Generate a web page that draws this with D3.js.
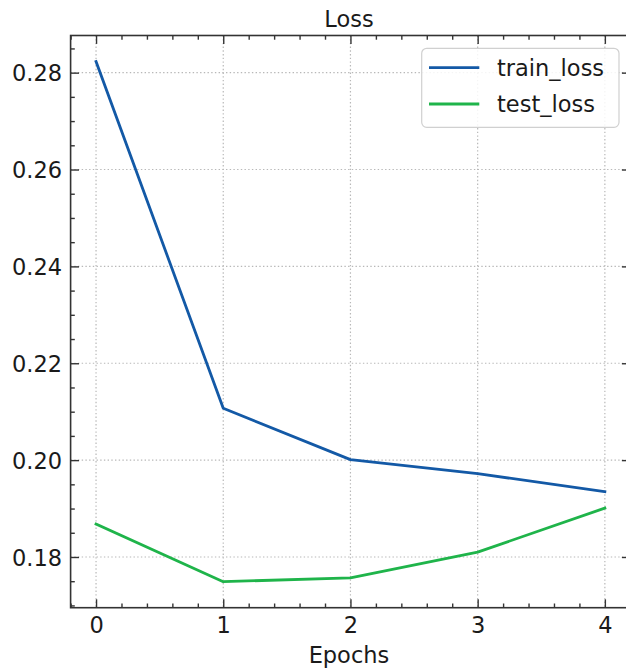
<!DOCTYPE html>
<html>
<head>
<meta charset="utf-8">
<script src="https://cdn.jsdelivr.net/npm/d3@7"></script>
<style>
  html, body { margin: 0; padding: 0; background: #ffffff; }
  svg { display: block; font-family: "DejaVu Sans", sans-serif; }
</style>
</head>
<body>
<script>
// Per-epoch loss values
const epochs = [0, 1, 2, 3, 4];
const trainLoss = [0.2823, 0.2107, 0.2001, 0.1972, 0.1935];
const testLoss = [0.1868, 0.1749, 0.1757, 0.1810, 0.1901];
const seriesNames = ["train_loss", "test_loss"];
const xTickValues = [0, 1, 2, 3, 4];
const yTickValues = [0.18, 0.20, 0.22, 0.24, 0.26, 0.28];

const W = 626, H = 671;
const plot = { left: 70.6, right: 630.3, top: 35.5, bottom: 607.7 };
const colors = ["#1359a6", "#1fb44a"];
const fontSize = 22.5;

const svg = d3.select("body").append("svg")
  .attr("width", W).attr("height", H);
svg.append("rect").attr("width", W).attr("height", H).attr("fill", "#ffffff");

// Axis limits with a 5% margin around the data, as pyplot does
const xPad = (d3.max(epochs) - d3.min(epochs)) * 0.05;
const allY = trainLoss.concat(testLoss);
const yPad = (d3.max(allY) - d3.min(allY)) * 0.05;

const x = d3.scaleLinear()
  .domain([d3.min(epochs) - xPad, d3.max(epochs) + xPad])
  .range([plot.left, plot.right]);
const y = d3.scaleLinear()
  .domain([d3.min(allY) - yPad, d3.max(allY) + yPad])
  .range([plot.bottom, plot.top]);

const xMinor = d3.range(0, 21).map(i => -0.2 + i * 0.2)
  .filter(v => v >= x.domain()[0] - 1e-9 && v <= x.domain()[1] + 1e-9)
  .filter(v => Math.abs(v - Math.round(v)) > 1e-6);
const yMinor = d3.range(0, 30).map(i => 0.165 + i * 0.005)
  .filter(v => v >= y.domain()[0] && v <= y.domain()[1])
  .filter(v => Math.abs(v * 50 - Math.round(v * 50)) > 1e-6);

// Dotted grid at major ticks
const grid = svg.append("g")
  .attr("stroke", "#b8b8b8").attr("stroke-width", 1.2)
  .attr("stroke-dasharray", "1.4,2.3").attr("fill", "none");
xTickValues.forEach(v => {
  grid.append("line").attr("x1", x(v)).attr("x2", x(v))
    .attr("y1", plot.top).attr("y2", plot.bottom);
});
yTickValues.forEach(v => {
  grid.append("line").attr("x1", plot.left).attr("x2", plot.right)
    .attr("y1", y(v)).attr("y2", y(v));
});

// Loss curves
const line = d3.line().x((d, i) => x(epochs[i])).y(d => y(d));
[trainLoss, testLoss].forEach((s, k) => {
  svg.append("path").datum(s)
    .attr("d", line)
    .attr("fill", "none")
    .attr("stroke", colors[k])
    .attr("stroke-width", 2.8)
    .attr("stroke-linejoin", "round")
    .attr("stroke-linecap", "square");
});

// Inward ticks on all four sides
const tickColor = "#333333";
const majorLen = 8.4, minorLen = 4.2;
const axisBottom = d3.axisBottom(x).tickValues(xTickValues).tickSize(-majorLen).tickFormat(d3.format("d")).tickPadding(0);
const axisTop = d3.axisTop(x).tickValues(xTickValues).tickSize(-majorLen).tickFormat("");
const axisLeft = d3.axisLeft(y).tickValues(yTickValues).tickSize(-majorLen).tickFormat(d3.format(".2f"));
const axisRight = d3.axisRight(y).tickValues(yTickValues).tickSize(-majorLen).tickFormat("");
const minorBottom = d3.axisBottom(x).tickValues(xMinor).tickSize(-minorLen).tickFormat("");
const minorTop = d3.axisTop(x).tickValues(xMinor).tickSize(-minorLen).tickFormat("");
const minorLeft = d3.axisLeft(y).tickValues(yMinor).tickSize(-minorLen).tickFormat("");
const minorRight = d3.axisRight(y).tickValues(yMinor).tickSize(-minorLen).tickFormat("");

function styleAxis(g) {
  g.select(".domain").remove();
  g.selectAll(".tick line").attr("stroke", tickColor).attr("stroke-width", 1.4);
  g.selectAll("text").attr("fill", "#1a1a1a").attr("font-size", fontSize)
    .attr("font-family", "DejaVu Sans, sans-serif");
}

const gB = svg.append("g").attr("transform", `translate(0,${plot.bottom})`).call(axisBottom).call(styleAxis);
gB.selectAll("text").attr("dy", null).attr("y", 25.3);
svg.append("g").attr("transform", `translate(0,${plot.top})`).call(axisTop).call(styleAxis);
const gL = svg.append("g").attr("transform", `translate(${plot.left},0)`).call(axisLeft).call(styleAxis);
gL.selectAll("text").attr("x", -8.5).attr("dy", "0.36em");
svg.append("g").attr("transform", `translate(${plot.right},0)`).call(axisRight).call(styleAxis);
svg.append("g").attr("transform", `translate(0,${plot.bottom})`).call(minorBottom).call(styleAxis);
svg.append("g").attr("transform", `translate(0,${plot.top})`).call(minorTop).call(styleAxis);
svg.append("g").attr("transform", `translate(${plot.left},0)`).call(minorLeft).call(styleAxis);
svg.append("g").attr("transform", `translate(${plot.right},0)`).call(minorRight).call(styleAxis);

// Frame
svg.append("rect")
  .attr("x", plot.left).attr("y", plot.top)
  .attr("width", plot.right - plot.left).attr("height", plot.bottom - plot.top)
  .attr("fill", "none").attr("stroke", tickColor).attr("stroke-width", 1.6);

// Title and axis label
const cx = (plot.left + plot.right) / 2;
svg.append("text").attr("x", cx - 1.5).attr("y", 27)
  .attr("text-anchor", "middle").attr("font-size", fontSize).attr("fill", "#1a1a1a")
  .text("Loss");
svg.append("text").attr("x", cx - 1.5).attr("y", 663)
  .attr("text-anchor", "middle").attr("font-size", fontSize).attr("fill", "#1a1a1a")
  .text("Epochs");

// Legend
const leg = svg.append("g");
leg.append("rect")
  .attr("x", 421.7).attr("y", 48.3).attr("width", 197.3).attr("height", 79)
  .attr("rx", 5).attr("fill", "#ffffff").attr("fill-opacity", 0.85)
  .attr("stroke", "#d0d0d0").attr("stroke-width", 1.2);
seriesNames.forEach((name, k) => {
  const ly = 67.7 + k * 36.3;
  leg.append("line").attr("x1", 429).attr("x2", 479.3)
    .attr("y1", ly).attr("y2", ly)
    .attr("stroke", colors[k]).attr("stroke-width", 2.8);
  leg.append("text").attr("x", 497).attr("y", ly + 8.3)
    .attr("font-size", fontSize).attr("fill", "#1a1a1a")
    .text(name);
});
</script>
</body>
</html>
